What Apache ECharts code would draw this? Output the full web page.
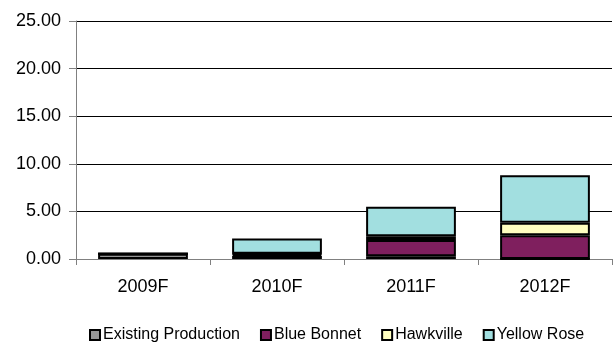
<!DOCTYPE html>
<html>
<head>
<meta charset="utf-8">
<style>
  html, body { margin: 0; padding: 0; background: #fff; }
  #chart { width: 614px; height: 342px; }
</style>
<script src="https://cdn.jsdelivr.net/npm/echarts@6/dist/echarts.min.js"></script>
</head>
<body>
<div id="chart"></div>
<script>
// Forecast production by field, stacked per year
const categories = ['2009F', '2010F', '2011F', '2012F'];
const existingProduction = [0.55, 0.35, 0.3, 0];
const blueBonnet = [0, 0.15, 1.7, 2.5];
const hawkville = [0, 0.05, 0.4, 1.3];
const yellowRose = [0, 1.6, 3.1, 5.0];
const yTicks = [0, 5, 10, 15, 20, 25];

const seriesDefs = [
  { name: 'Existing Production', data: existingProduction, color: '#969696' },
  { name: 'Blue Bonnet', data: blueBonnet, color: '#7F1F5E' },
  { name: 'Hawkville', data: hawkville, color: '#FFFFC0' },
  { name: 'Yellow Rose', data: yellowRose, color: '#A2DFE0' }
];

const chart = echarts.init(document.getElementById('chart'), null, { renderer: 'canvas' });
const font = 'Liberation Sans, Arial, sans-serif';

chart.setOption({
  animation: false,
  textStyle: { fontFamily: font },
  grid: { left: 76, right: 2, top: 21, bottom: 83, containLabel: false },
  legend: {
    top: 327,
    left: 89,
    padding: 0,
    icon: 'rect',
    itemWidth: 10,
    itemHeight: 10,
    itemGap: 20,
    textStyle: { fontSize: 16, color: '#000', fontFamily: font, padding: [0, 0, 0, -2] },
    itemStyle: { borderColor: '#000', borderWidth: 2 },
    data: seriesDefs.map(s => s.name)
  },
  xAxis: {
    type: 'category',
    data: categories,
    axisLine: { lineStyle: { color: '#808080', width: 1 } },
    axisTick: { show: true, alignWithLabel: false, length: 6, lineStyle: { color: '#808080' } },
    axisLabel: { fontSize: 18, color: '#000', margin: 19, fontFamily: font },
    splitLine: { show: false }
  },
  yAxis: {
    type: 'value',
    min: yTicks[0],
    max: yTicks[yTicks.length - 1],
    interval: 5,
    axisLine: { show: true, lineStyle: { color: '#808080', width: 1 } },
    axisTick: { show: true, length: 7, lineStyle: { color: '#808080' } },
    axisLabel: {
      fontSize: 18, color: '#000', margin: 15, fontFamily: font,
      formatter: v => v.toFixed(2)
    },
    splitLine: { show: true, lineStyle: { color: '#000', width: 1 } }
  },
  series: seriesDefs.map(s => ({
    name: s.name,
    type: 'bar',
    stack: 'total',
    barWidth: '67%',
    data: s.data,
    itemStyle: { color: s.color, borderColor: '#000', borderWidth: 2 }
  }))
});
</script>
</body>
</html>
